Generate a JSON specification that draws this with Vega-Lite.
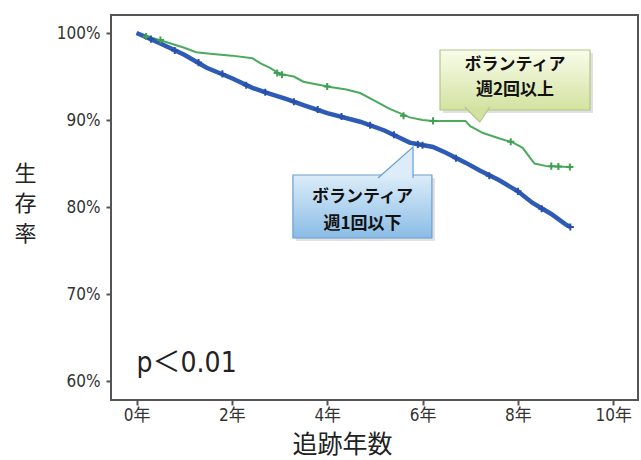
{
  "$schema": "https://vega.github.io/schema/vega-lite/v6.json",
  "autosize": "none",
  "width": 527,
  "height": 385,
  "padding": {"left": 111, "top": 15, "right": 3, "bottom": 60},
  "background": "white",
  "config": {
    "view": {"stroke": "#555555", "strokeWidth": 2},
    "axis": {
      "grid": false,
      "domain": false,
      "tickColor": "#555555",
      "tickWidth": 2,
      "tickSize": 5,
      "labelColor": "#333333",
      "labelFont": "Liberation Sans Narrow, DejaVu Sans Condensed, Noto Sans CJK JP",
      "labelFontSize": 17,
      "titleFont": "Noto Sans CJK JP",
      "titleFontWeight": "normal",
      "titleColor": "#222222",
      "titleFontSize": 25
    }
  },
  "datasets": {
    "curves": [
      {"group": "週2回以上", "year": 0, "surv": 100},
      {"group": "週2回以上", "year": 0.3, "surv": 99.5},
      {"group": "週2回以上", "year": 0.6, "surv": 99.0},
      {"group": "週2回以上", "year": 1.0, "surv": 98.3},
      {"group": "週2回以上", "year": 1.25, "surv": 97.8},
      {"group": "週2回以上", "year": 1.6, "surv": 97.6},
      {"group": "週2回以上", "year": 2.0, "surv": 97.4},
      {"group": "週2回以上", "year": 2.43, "surv": 97.1},
      {"group": "週2回以上", "year": 2.6, "surv": 96.5},
      {"group": "週2回以上", "year": 2.8, "surv": 96.0},
      {"group": "週2回以上", "year": 3.0, "surv": 95.3},
      {"group": "週2回以上", "year": 3.3, "surv": 95.0},
      {"group": "週2回以上", "year": 3.5, "surv": 94.4},
      {"group": "週2回以上", "year": 4.06, "surv": 93.8},
      {"group": "週2回以上", "year": 4.4, "surv": 93.5},
      {"group": "週2回以上", "year": 4.69, "surv": 93.1},
      {"group": "週2回以上", "year": 5.0, "surv": 92.2},
      {"group": "週2回以上", "year": 5.3, "surv": 91.3},
      {"group": "週2回以上", "year": 5.73, "surv": 90.3},
      {"group": "週2回以上", "year": 6.0, "surv": 90.0},
      {"group": "週2回以上", "year": 6.22, "surv": 89.9},
      {"group": "週2回以上", "year": 6.9, "surv": 89.9},
      {"group": "週2回以上", "year": 7.0, "surv": 89.3},
      {"group": "週2回以上", "year": 7.27, "surv": 88.5},
      {"group": "週2回以上", "year": 7.6, "surv": 87.9},
      {"group": "週2回以上", "year": 7.9, "surv": 87.4},
      {"group": "週2回以上", "year": 8.1, "surv": 86.8},
      {"group": "週2回以上", "year": 8.25, "surv": 85.7},
      {"group": "週2回以上", "year": 8.35, "surv": 85.0},
      {"group": "週2回以上", "year": 8.6, "surv": 84.7},
      {"group": "週2回以上", "year": 9.09, "surv": 84.6},
      {"group": "週1回以下", "year": 0, "surv": 100},
      {"group": "週1回以下", "year": 0.5, "surv": 98.8},
      {"group": "週1回以下", "year": 1.0, "surv": 97.5},
      {"group": "週1回以下", "year": 1.47, "surv": 96.0},
      {"group": "週1回以下", "year": 2.0, "surv": 94.8},
      {"group": "週1回以下", "year": 2.43, "surv": 93.7},
      {"group": "週1回以下", "year": 2.8, "surv": 93.0},
      {"group": "週1回以下", "year": 3.15, "surv": 92.4},
      {"group": "週1回以下", "year": 3.5, "surv": 91.7},
      {"group": "週1回以下", "year": 4.0, "surv": 90.8},
      {"group": "週1回以下", "year": 4.69, "surv": 89.8},
      {"group": "週1回以下", "year": 5.2, "surv": 88.8},
      {"group": "週1回以下", "year": 5.73, "surv": 87.4},
      {"group": "週1回以下", "year": 6.22, "surv": 86.9},
      {"group": "週1回以下", "year": 6.5, "surv": 86.2},
      {"group": "週1回以下", "year": 6.9, "surv": 85.1},
      {"group": "週1回以下", "year": 7.2, "surv": 84.2},
      {"group": "週1回以下", "year": 7.6, "surv": 83.1},
      {"group": "週1回以下", "year": 8.0, "surv": 81.8},
      {"group": "週1回以下", "year": 8.3, "surv": 80.5},
      {"group": "週1回以下", "year": 8.7, "surv": 79.2},
      {"group": "週1回以下", "year": 9.0, "surv": 78.0},
      {"group": "週1回以下", "year": 9.1, "surv": 77.7}
    ],
    "censors": [
      {"group": "週2回以上", "year": 0.2, "surv": 99.6},
      {"group": "週2回以上", "year": 0.5, "surv": 99.2},
      {"group": "週2回以上", "year": 2.95, "surv": 95.4},
      {"group": "週2回以上", "year": 3.05, "surv": 95.2},
      {"group": "週2回以上", "year": 4.0, "surv": 93.85},
      {"group": "週2回以上", "year": 5.6, "surv": 90.5},
      {"group": "週2回以上", "year": 6.22, "surv": 89.9},
      {"group": "週2回以上", "year": 7.85, "surv": 87.5},
      {"group": "週2回以上", "year": 8.7, "surv": 84.7},
      {"group": "週2回以上", "year": 8.85, "surv": 84.65},
      {"group": "週2回以上", "year": 9.09, "surv": 84.6},
      {"group": "週1回以下", "year": 0.3, "surv": 99.3},
      {"group": "週1回以下", "year": 0.8, "surv": 98.0},
      {"group": "週1回以下", "year": 1.3, "surv": 96.6},
      {"group": "週1回以下", "year": 1.8, "surv": 95.3},
      {"group": "週1回以下", "year": 2.3, "surv": 94.0},
      {"group": "週1回以下", "year": 2.7, "surv": 93.2},
      {"group": "週1回以下", "year": 3.3, "surv": 92.1},
      {"group": "週1回以下", "year": 3.8, "surv": 91.2},
      {"group": "週1回以下", "year": 4.3, "surv": 90.4},
      {"group": "週1回以下", "year": 4.9, "surv": 89.4},
      {"group": "週1回以下", "year": 5.4, "surv": 88.3},
      {"group": "週1回以下", "year": 5.9, "surv": 87.2},
      {"group": "週1回以下", "year": 6.0, "surv": 87.1},
      {"group": "週1回以下", "year": 6.7, "surv": 85.6},
      {"group": "週1回以下", "year": 7.4, "surv": 83.6},
      {"group": "週1回以下", "year": 8.0, "surv": 81.8},
      {"group": "週1回以下", "year": 8.5, "surv": 79.8},
      {"group": "週1回以下", "year": 9.1, "surv": 77.7}
    ],
    "boxes": [
      {"group": "週2回以上", "x1": 6.366, "x2": 9.513, "y1": 98.05, "y2": 91.15},
      {"group": "週1回以下", "x1": 3.28, "x2": 6.196, "y1": 83.68, "y2": 76.44}
    ],
    "labels": [
      {"group": "週2回以上", "x": 7.94, "y": 96.3, "text": "ボランティア"},
      {"group": "週2回以上", "x": 7.94, "y": 93.4, "text": "週2回以上"},
      {"group": "週1回以下", "x": 4.74, "y": 81.15, "text": "ボランティア"},
      {"group": "週1回以下", "x": 4.74, "y": 78.1, "text": "週1回以下"}
    ],
    "ptext": [
      {"x": 0.0, "y": 61.05, "text": "p＜0.01"}
    ],
    "tails": [
      {"group": "週2回以上", "x": 7.2, "y": 91.15},
      {"group": "週1回以下", "x": 5.8, "y": 83.68}
    ]
  },
  "encoding": {
    "x": {
      "type": "quantitative",
      "scale": {"domain": [-0.537, 10.52], "nice": false, "zero": false},
      "axis": {
        "values": [0, 2, 4, 6, 8, 10],
        "labelExpr": "datum.value + '年'",
        "title": "追跡年数",
        "titleX": 231,
        "titleY": 44,
        "titleAnchor": "middle",
        "titleAlign": "center",
        "titleBaseline": "middle",
        "labelPadding": 2
      }
    },
    "y": {
      "type": "quantitative",
      "scale": {"domain": [57.82, 102.07], "nice": false, "zero": false},
      "axis": {
        "values": [60, 70, 80, 90, 100],
        "labelExpr": "datum.value + '%'",
        "title": ["生", "存", "率"],
        "titleAngle": 0,
        "titleX": -86,
        "titleY": 158,
        "titleFontSize": 22,
        "titleAlign": "center",
        "titleBaseline": "middle",
        "titleLineHeight": 30,
        "labelPadding": 6
      }
    }
  },
  "layer": [
    {
      "data": {"name": "curves"},
      "transform": [{"filter": "datum.group === '週2回以上'"}],
      "mark": {"type": "line", "color": "#4aab5e", "strokeWidth": 2, "interpolate": "linear"},
      "encoding": {
        "x": {"field": "year"},
        "y": {"field": "surv"}
      }
    },
    {
      "data": {"name": "curves"},
      "transform": [{"filter": "datum.group === '週1回以下'"}],
      "mark": {"type": "line", "color": "#2d5bb5", "strokeWidth": 4.5, "interpolate": "linear"},
      "encoding": {
        "x": {"field": "year"},
        "y": {"field": "surv"}
      }
    },
    {
      "data": {"name": "censors"},
      "mark": {"type": "point", "shape": "M-1,0H1M0,-1V1", "filled": false, "strokeWidth": 2, "size": 50, "opacity": 1},
      "encoding": {
        "x": {"field": "year"},
        "y": {"field": "surv"},
        "color": {"field": "group", "type": "nominal", "scale": {"domain": ["週2回以上", "週1回以下"], "range": ["#3f9f52", "#2850a8"]}, "legend": null}
      }
    },
    {
      "data": {"name": "boxes"},
      "mark": {"type": "rect", "color": "#000000", "opacity": 0.12, "xOffset": 3, "yOffset": 3, "x2Offset": 3, "y2Offset": 3},
      "encoding": {
        "x": {"field": "x1"},
        "x2": {"field": "x2"},
        "y": {"field": "y1"},
        "y2": {"field": "y2"}
      }
    },
    {
      "data": {"name": "boxes"},
      "transform": [{"filter": "datum.group === '週2回以上'"}],
      "mark": {
        "type": "rect",
        "fill": {"gradient": "linear", "x1": 0, "y1": 0, "x2": 0, "y2": 1, "stops": [{"offset": 0, "color": "#f9fcea"}, {"offset": 1, "color": "#d3e2a0"}]},
        "stroke": "#b2c688",
        "strokeWidth": 1.2
      },
      "encoding": {
        "x": {"field": "x1"},
        "x2": {"field": "x2"},
        "y": {"field": "y1"},
        "y2": {"field": "y2"}
      }
    },
    {
      "data": {"name": "boxes"},
      "transform": [{"filter": "datum.group === '週1回以下'"}],
      "mark": {
        "type": "rect",
        "fill": {"gradient": "linear", "x1": 0, "y1": 0, "x2": 0, "y2": 1, "stops": [{"offset": 0, "color": "#dcedf9"}, {"offset": 1, "color": "#8abce6"}]},
        "stroke": "#6b9ecf",
        "strokeWidth": 1.2
      },
      "encoding": {
        "x": {"field": "x1"},
        "x2": {"field": "x2"},
        "y": {"field": "y1"},
        "y2": {"field": "y2"}
      }
    },
    {
      "data": {"name": "tails"},
      "transform": [{"filter": "datum.group === '週2回以上'"}],
      "mark": {"type": "point", "shape": "M-1,-0.2L0,0.8L0.667,-0.2", "filled": true, "fill": "#d3e2a0", "fillOpacity": 1, "stroke": "#b2c688", "strokeWidth": 1.2, "opacity": 1, "size": 900},
      "encoding": {
        "x": {"field": "x"},
        "y": {"field": "y"}
      }
    },
    {
      "data": {"name": "tails"},
      "transform": [{"filter": "datum.group === '週1回以下'"}],
      "mark": {"type": "point", "shape": "M-1,0.086L0,-0.8L0,0.086", "filled": true, "fill": "#dcedf9", "fillOpacity": 1, "stroke": "#6b9ecf", "strokeWidth": 1.2, "opacity": 1, "size": 4900},
      "encoding": {
        "x": {"field": "x"},
        "y": {"field": "y"}
      }
    },
    {
      "data": {"name": "labels"},
      "mark": {"type": "text", "font": "Noto Sans CJK JP", "fontWeight": "bold", "fontSize": 17, "color": "#111111", "align": "center", "baseline": "middle"},
      "encoding": {
        "x": {"field": "x"},
        "y": {"field": "y"},
        "text": {"field": "text"}
      }
    },
    {
      "data": {"name": "ptext"},
      "mark": {"type": "text", "font": "DejaVu Sans Condensed, Noto Sans CJK JP", "fontSize": 28, "color": "#222222", "align": "left", "baseline": "alphabetic"},
      "encoding": {
        "x": {"field": "x"},
        "y": {"field": "y"},
        "text": {"field": "text"}
      }
    }
  ]
}
